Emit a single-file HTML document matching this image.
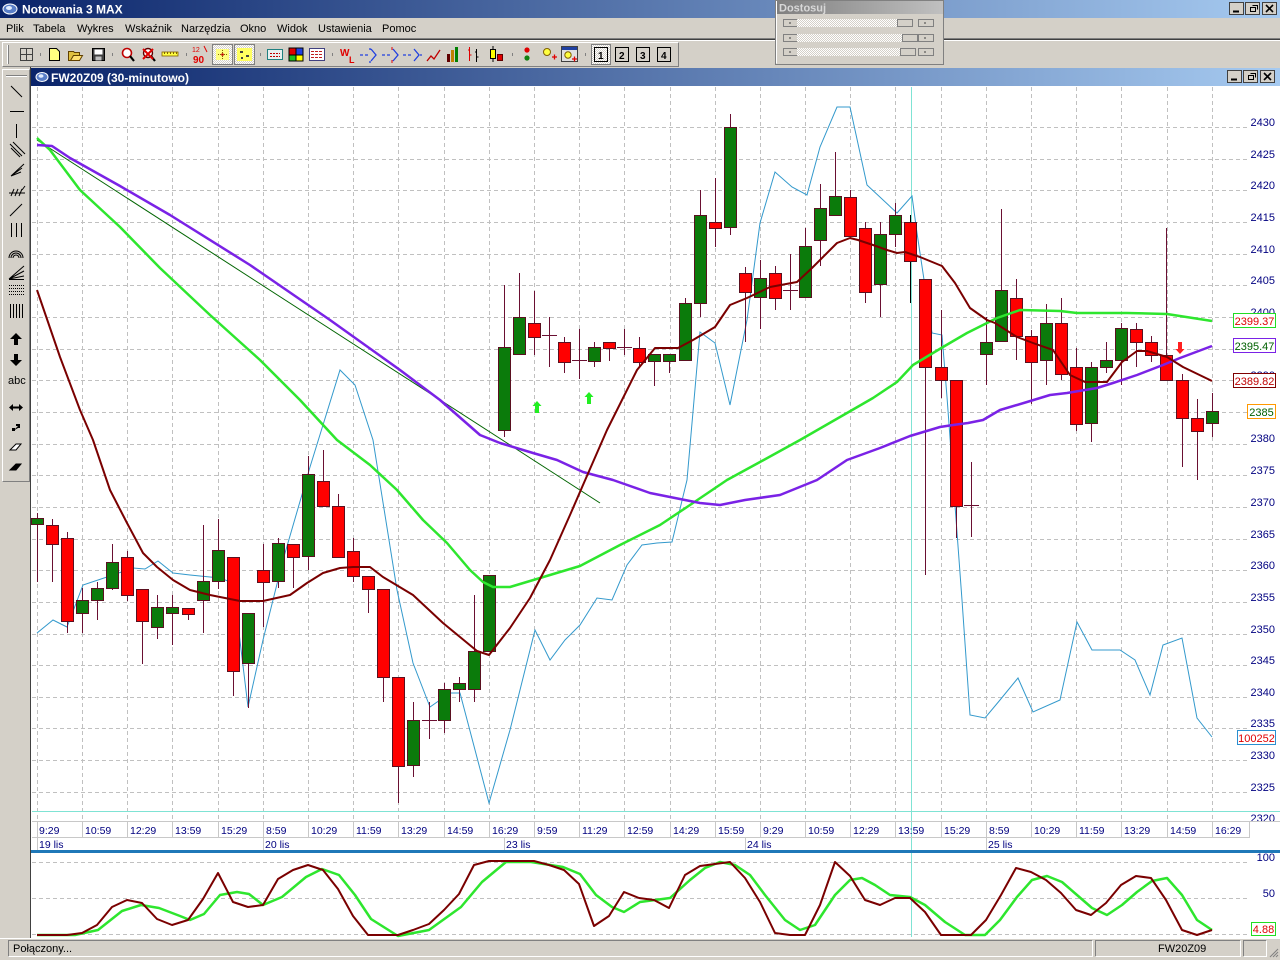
<!DOCTYPE html>
<html><head><meta charset="utf-8">
<style>
html,body{margin:0;padding:0;background:#d4d0c8;width:1280px;height:960px;overflow:hidden;}
svg{display:block;}
text{font-family:"Liberation Sans",sans-serif;}
</style></head><body>
<svg width="1280" height="960" viewBox="0 0 1280 960" xmlns="http://www.w3.org/2000/svg">
<defs>
<linearGradient id="tb" x1="0" x2="1" y1="0" y2="0"><stop offset="0" stop-color="#0a246a"/><stop offset="1" stop-color="#a6caf0"/></linearGradient>
<linearGradient id="tg" x1="0" x2="1" y1="0" y2="0"><stop offset="0" stop-color="#808080"/><stop offset="1" stop-color="#c0c0c0"/></linearGradient>
<pattern id="hatch" width="2" height="2" patternUnits="userSpaceOnUse"><rect width="2" height="2" fill="#ffffff"/><rect width="1" height="1" fill="#d4d0c8"/><rect x="1" y="1" width="1" height="1" fill="#d4d0c8"/></pattern>
</defs>

<!-- background -->
<rect x="0" y="0" width="1280" height="960" fill="#d4d0c8"/>

<!-- main title bar -->
<rect x="0" y="0" width="1280" height="18" fill="url(#tb)"/>
<ellipse cx="10" cy="9" rx="7" ry="5" fill="#5a7fc8" stroke="#ffffff" stroke-width="1"/>
<ellipse cx="9" cy="8" rx="3" ry="2" fill="#e0ecff"/>
<text x="22" y="13.5" font-size="12" font-weight="bold" fill="#ffffff">Notowania 3 MAX</text>
<g>
<rect x="1229.5" y="2.5" width="14" height="12" fill="#d4d0c8" stroke="#404040"/>
<rect x="1245.5" y="2.5" width="14" height="12" fill="#d4d0c8" stroke="#404040"/>
<rect x="1262.5" y="2.5" width="14" height="12" fill="#d4d0c8" stroke="#404040"/>
<path d="M1233 11.5h6" stroke="#000" stroke-width="2"/>
<path d="M1250.5 7.5h5v4h-5z M1252.5 5.5h5v4" fill="none" stroke="#000"/>
<path d="M1266 5l7 7M1273 5l-7 7" stroke="#000" stroke-width="1.6"/>
</g>

<!-- menu bar -->
<g font-size="11" fill="#000">
<text x="6" y="32">Plik</text>
<text x="33" y="32">Tabela</text>
<text x="77" y="32">Wykres</text>
<text x="125" y="32">Wskaźnik</text>
<text x="181" y="32">Narzędzia</text>
<text x="240" y="32">Okno</text>
<text x="277" y="32">Widok</text>
<text x="318" y="32">Ustawienia</text>
<text x="382" y="32">Pomoc</text>
</g>
<path d="M0 38.5H1280" stroke="#808080"/>
<path d="M0 39.5H1280" stroke="#404040"/>
<path d="M0 40.5H1280" stroke="#ffffff"/>

<!-- toolbar -->
<rect x="2.5" y="42.5" width="676" height="24" fill="#d4d0c8" stroke="#ffffff"/>
<path d="M678.5 42.5V66.5H2.5" stroke="#808080" fill="none"/>
<path d="M7.5 45V64" stroke="#ffffff" stroke-width="1"/><path d="M8.5 45V64" stroke="#808080"/>
<g stroke-width="1">
<!-- grid icon -->
<rect x="20.5" y="48.5" width="12" height="12" fill="none" stroke="#404040"/><path d="M26.5 48.5V60.5M20.5 54.5H32.5" stroke="#404040"/>
<path d="M40.5 53V56M112.5 53V56M186.5 53V56M260.5 53V56M332.5 53V56M512.5 53V56M585.5 53V56" stroke="#808080"/>
<!-- new doc -->
<path d="M49.5 48.5h7l3 3v9h-10z" fill="#ffff80" stroke="#000"/>
<!-- folder -->
<path d="M68.5 51.5h5l1 1h5v8h-11z" fill="#e0c040" stroke="#604000"/><path d="M70.5 60.5l3-5h9l-3 5z" fill="#ffe070" stroke="#604000"/>
<!-- floppy -->
<rect x="92.5" y="48.5" width="12" height="12" fill="#404040" stroke="#000"/><rect x="94.5" y="49.5" width="8" height="5" fill="#fff"/><rect x="95.5" y="56.5" width="6" height="4" fill="#c0c0c0"/>
<!-- magnifier -->
<circle cx="127" cy="53" r="4.5" fill="#fff" stroke="#c00000" stroke-width="1.6"/><path d="M130 56l4 5" stroke="#000" stroke-width="2.2"/>
<circle cx="148" cy="53" r="4.5" fill="#fff" stroke="#600000" stroke-width="1.4"/><path d="M151 56l4 5" stroke="#000" stroke-width="2.2"/><path d="M143 49l10 10M153 49l-10 10" stroke="#e00000" stroke-width="2"/>
<!-- ruler -->
<rect x="162" y="52" width="16" height="4" fill="#ffff40" stroke="#806000" stroke-width="0.8"/><path d="M164.5 52v2M167.5 52v2M170.5 52v2M173.5 52v2M176.5 52v2" stroke="#806000"/>
<!-- 12/90 -->
<text x="192" y="52" font-size="7" fill="#e00000">12</text><text x="193" y="63" font-size="10" fill="#e00000" font-weight="bold">90</text><path d="M204 46l3 6" stroke="#e00000"/>
<!-- pressed yellow buttons -->
<rect x="212.5" y="44.5" width="20" height="20" fill="url(#hatch)" stroke="#808080"/>
<rect x="216" y="49" width="13" height="11" fill="#ffff80"/><circle cx="222.5" cy="54.5" r="1.3" fill="#c00000"/><path d="M218 54.5h3M224 54.5h3M222.5 50v3M222.5 56v3" stroke="#806000" stroke-dasharray="1,1"/>
<rect x="234.5" y="44.5" width="20" height="20" fill="url(#hatch)" stroke="#808080"/>
<rect x="237" y="48" width="15" height="13" fill="#ffff60"/><rect x="240" y="51" width="3" height="2" fill="#404040"/><rect x="246" y="55" width="3" height="2" fill="#404040"/><rect x="241" y="57" width="2" height="2" fill="#404040"/>
<!-- boxes -->
<rect x="267.5" y="49.5" width="15" height="10" fill="#e8f0f0" stroke="#208080"/><path d="M270 53.5h10M270 56.5h10" stroke="#c00000" stroke-dasharray="2,1"/>
<rect x="288.5" y="47.5" width="15" height="14" fill="#000"/><rect x="289.5" y="48.5" width="6" height="6" fill="#e00000"/><rect x="296.5" y="48.5" width="6" height="6" fill="#2040e0"/><rect x="289.5" y="55.5" width="6" height="5" fill="#20c020"/><rect x="296.5" y="55.5" width="6" height="5" fill="#ffff00"/>
<rect x="309.5" y="48.5" width="15" height="12" fill="#fff" stroke="#404080"/><path d="M311 51.5h12M311 54.5h12M311 57.5h12" stroke="#c02020" stroke-dasharray="3,1"/>
<!-- WL -->
<text x="340" y="56" font-size="10" font-weight="bold" fill="#e00000">W</text><text x="349" y="63" font-size="9" font-weight="bold" fill="#e00000">L</text>
<!-- arrows -->
<path d="M360 55h3M365 55h3M371 49l5 6-5 6M370 48v2M370 61v2" stroke="#2040e0" fill="none" stroke-width="1.3"/>
<path d="M382 55h3M387 55h3M393 49l5 6-5 6" stroke="#2040e0" fill="none" stroke-width="1.3"/><path d="M392 47v3M392 60v3" stroke="#e00000"/>
<path d="M403 55h3M408 55h3M414 49l5 6-5 6M420 55h2" stroke="#2040e0" fill="none" stroke-width="1.3"/>
<!-- chart types -->
<path d="M427 61l4-5 3 3 6-9" stroke="#c00000" fill="none" stroke-width="1.3"/>
<rect x="447" y="54" width="3" height="8" fill="#600000"/><rect x="451" y="50" width="3" height="12" fill="#c08000"/><rect x="455" y="47" width="3" height="15" fill="#008000"/>
<path d="M469.5 47v14M468 50h2M469.5 55h2" stroke="#e00000"/><path d="M476.5 49v13M475 52h2M476.5 57h2" stroke="#000"/>
<rect x="490.5" y="49.5" width="5" height="9" fill="#ffff00" stroke="#000"/><path d="M493 46v3M493 58v4" stroke="#000"/><rect x="497.5" y="54.5" width="5" height="6" fill="#e00000" stroke="#600000"/>
<!-- traffic -->
<circle cx="527" cy="50" r="2.6" fill="#e00000"/><circle cx="527" cy="58" r="2.6" fill="#108010"/>
<!-- magnifier plus -->
<circle cx="547" cy="52" r="3.5" fill="#ffff40" stroke="#806000"/><path d="M552 57h5M554.5 54.5v5" stroke="#e00000" stroke-width="1.3"/>
<rect x="561.5" y="46.5" width="16" height="15" fill="#e0e0e0" stroke="#404040"/><rect x="562" y="47" width="15" height="3" fill="#2040a0"/><circle cx="568" cy="55" r="3.2" fill="#ffff40" stroke="#806000"/><path d="M572 59h5M574.5 56.5v5" stroke="#e00000" stroke-width="1.3"/>
<!-- 1 2 3 4 -->
<rect x="591.5" y="44.5" width="19" height="20" fill="url(#hatch)" stroke="#808080"/>
<rect x="594.5" y="47.5" width="13" height="14" fill="none" stroke="#000"/>
<rect x="615.5" y="47.5" width="13" height="14" fill="none" stroke="#000"/>
<rect x="636.5" y="47.5" width="13" height="14" fill="none" stroke="#000"/>
<rect x="657.5" y="47.5" width="13" height="14" fill="none" stroke="#000"/>
<text x="598" y="59" font-size="10" font-weight="bold" fill="#000">1</text>
<text x="619" y="59" font-size="10" font-weight="bold" fill="#000">2</text>
<text x="640" y="59" font-size="10" font-weight="bold" fill="#000">3</text>
<text x="661" y="59" font-size="10" font-weight="bold" fill="#000">4</text>
</g>

<!-- Dostosuj window -->
<rect x="775.5" y="0.5" width="168" height="64" fill="#d4d0c8" stroke="#808080"/>
<path d="M776.5 63.5V1.5H942.5" stroke="#ffffff" fill="none"/>
<rect x="777" y="1" width="166" height="13" fill="url(#tg)"/>
<text x="779" y="11.5" font-size="11" font-weight="bold" fill="#d8d8d8">Dostosuj</text>
<g>
<rect x="783.5" y="19.5" width="14" height="7" fill="#d4d0c8" stroke="#808080"/><rect x="797" y="19" width="103" height="8" fill="url(#hatch)"/><rect x="897.5" y="19.5" width="15" height="7" fill="#d4d0c8" stroke="#808080"/><rect x="918.5" y="19.5" width="15" height="7" fill="#d4d0c8" stroke="#808080"/>
<rect x="783.5" y="34.5" width="14" height="7" fill="#d4d0c8" stroke="#808080"/><rect x="797" y="34" width="106" height="8" fill="url(#hatch)"/><rect x="902.5" y="34.5" width="15" height="7" fill="#d4d0c8" stroke="#808080"/><rect x="918.5" y="34.5" width="15" height="7" fill="#d4d0c8" stroke="#808080"/>
<rect x="783.5" y="48.5" width="14" height="7" fill="#d4d0c8" stroke="#808080"/><rect x="797" y="48" width="104" height="8" fill="url(#hatch)"/><rect x="900.5" y="48.5" width="15" height="7" fill="#d4d0c8" stroke="#808080"/><rect x="918.5" y="48.5" width="15" height="7" fill="#d4d0c8" stroke="#808080"/>
<path d="M789 23h2M789 38h2M789 52h2M924 23h2M924 38h2M924 52h2" stroke="#404040"/>
</g>

<!-- left toolbar -->
<rect x="2.5" y="69.5" width="27" height="412" fill="#d4d0c8" stroke="#ffffff"/>
<path d="M29.5 69.5V481.5H2.5" stroke="#808080" fill="none"/>
<path d="M30.5 67V938" stroke="#404040"/>
<g stroke="#000" fill="none" stroke-width="1">
<path d="M6 75.5H27" stroke="#808080"/><path d="M6 76.5H27" stroke="#ffffff"/>
<path d="M11 86L22 97"/>
<path d="M10 111.5H24"/>
<path d="M16.5 124V138"/>
<path d="M10 144L22 156M13 142L25 154M11 148l9 9"/>
<path d="M11 176L24 164M11 176L22 168M11 176L21 172"/>
<path d="M9 193h16M11 196l3-7M15 196l3-7M19 196l3-7M22 190l3-4"/>
<path d="M10 216L22 204"/>
<path d="M11.5 223V237M16.5 223V237M21.5 223V237"/>
<path d="M9 258a7 7 0 0 1 14 0M11 258a5 5 0 0 1 10 0M13 258a3 3 0 0 1 6 0"/>
<path d="M9 279L24 266M9 279L24 271M9 279L24 276M9 279.5H24"/>
<path d="M9 285.5h15M9 288.5h15M9 291.5h15M9 294.5h15" stroke-dasharray="1,1"/>
<path d="M10.5 304V318M13.5 304V318M16.5 304V318M19.5 304V318M22.5 304V318"/>
</g>
<path d="M16 333l-6 6h4v6h4v-6h4z" fill="#000"/>
<path d="M16 366l-6-6h4v-6h4v6h4z" fill="#000"/>
<text x="8" y="384" font-size="11" fill="#000">abc</text>
<path d="M9 407.5l4-3.5v2.5h6V404l4 3.5-4 3.5v-2.5h-6V411z" fill="#000"/>
<path d="M13 431l5-5-2 0 0-2 4 0 0 4-2 0z" fill="#000"/><rect x="12" y="428" width="3" height="3" fill="#000"/>
<path d="M10 450l6-6h5l-5 6z" fill="#fff" stroke="#000"/><path d="M10 470l6-6h5l-5 6z" fill="#000" stroke="#000"/>

<!-- chart window title -->
<rect x="31" y="67" width="1249" height="1" fill="#d4d0c8"/>
<rect x="31" y="68" width="1249" height="18" fill="url(#tb)"/>
<ellipse cx="42" cy="77" rx="6" ry="4.5" fill="#5a7fc8" stroke="#ffffff"/>
<ellipse cx="41" cy="76" rx="2.5" ry="1.8" fill="#e0ecff"/>
<text x="51" y="82" font-size="12" font-weight="bold" fill="#ffffff">FW20Z09 (30-minutowo)</text>
<g>
<rect x="1227.5" y="70.5" width="14" height="12" fill="#d4d0c8" stroke="#404040"/>
<rect x="1243.5" y="70.5" width="14" height="12" fill="#d4d0c8" stroke="#404040"/>
<rect x="1260.5" y="70.5" width="14" height="12" fill="#d4d0c8" stroke="#404040"/>
<path d="M1231 79.5h6" stroke="#000" stroke-width="2"/>
<path d="M1248.5 75.5h5v4h-5z M1250.5 73.5h5v4" fill="none" stroke="#000"/>
<path d="M1264 73l7 7M1271 73l-7 7" stroke="#000" stroke-width="1.6"/>
</g>

<!-- chart white area -->
<rect x="31" y="86" width="1249" height="852" fill="#ffffff"/>

<!-- horizontal grid -->
<g stroke="#c0c0c0" stroke-dasharray="4,3" stroke-width="1">
<path d="M32 127.5H1248M32 159.5H1248M32 190.5H1248M32 222.5H1248M32 254.5H1248M32 285.5H1248M32 317.5H1248M32 349.5H1248M32 380.5H1248M32 412.5H1248M32 444.5H1248M32 475.5H1248M32 507.5H1248M32 539.5H1248M32 570.5H1248M32 602.5H1248M32 634.5H1248M32 665.5H1248M32 697.5H1248M32 728.5H1248M32 760.5H1248M32 792.5H1248"/>
<path d="M37.5 87V821M82.5 87V821M127.5 87V821M172.5 87V821M218.5 87V821M263.5 87V821M308.5 87V821M353.5 87V821M398.5 87V821M444.5 87V821M489.5 87V821M534.5 87V821M579.5 87V821M624.5 87V821M670.5 87V821M715.5 87V821M760.5 87V821M805.5 87V821M850.5 87V821M895.5 87V821M941.5 87V821M986.5 87V821M1031.5 87V821M1076.5 87V821M1121.5 87V821M1167.5 87V821M1212.5 87V821"/>
<path d="M32 862.5H1248M32 898.5H1248M32 934.5H1248"/>
</g>

<!-- crosshair -->
<path d="M911.5 87V937" stroke="#7fe3d4" stroke-width="1"/>
<path d="M32 811.5H1280" stroke="#7fe3d4" stroke-width="1"/>

<!-- cyan series -->
<polyline fill="none" stroke="#3399cc" stroke-width="1" points="37,633 53,620 67,627 83,585 107,577 133,568 145,569 158,561 173,573 190,575 220,578 233,583 248,707 263,640 283,560 310,467 340,370 355,385 373,440 397,590 413,663 430,707 450,693 460,693 489,803 510,730 535,630 550,660 565,640 580,625 597,598 612,600 627,565 642,545 657,543 672,542 687,480 700,332 715,343 730,405 747,320 760,223 775,172 792,187 807,195 820,147 837,107 850,107 867,185 897,213 912,196 917,233 932,333 942,335 947,397 962,600 970,715 985,718 1000,700 1018,678 1033,712 1060,700 1077,622 1092,650 1120,650 1135,660 1150,695 1163,645 1182,638 1197,718 1212,737"/>

<!-- candle wicks -->
<path fill="none" stroke="#6a0f32" stroke-width="1" d="M37.5 513V582M52.5 519V582M67.5 532V633M82.5 588V633M97.5 582V620M112.5 544V590M127.5 551V601M142.5 589V664M157.5 595V639M172.5 595V645M188.5 608V620M203.5 525V633M218.5 519V589M233.5 557V696M248.5 613V708M263.5 544V627M278.5 538V588M293.5 544V588M308.5 456V570M323.5 450V506M338.5 494V557M353.5 538V582M368.5 576V613M383.5 589V702M398.5 677V803M413.5 702V777M429.5 702V739M444.5 683V733M459.5 677V702M474.5 595V702M489.5 575V651M504.5 285V437M519.5 273V354M534.5 291V355M549.5 317V367M564.5 337V373M579.5 329V379M594.5 342V367M609.5 342V361M624.5 329V355M639.5 337V367M654.5 354V386M669.5 354V373M685.5 298V360M700.5 190V317M715.5 178V247M730.5 114V235M745.5 267V342M760.5 260V329M775.5 266V310M790.5 254V310M805.5 228V297M820.5 184V266M835.5 152V215M850.5 190V236M865.5 222V303M880.5 222V317M895.5 203V247M925.5 279V575M941.5 310V398M956.5 380V538M971.5 462V537M986.5 317V385M1001.5 209V341M1016.5 279V360M1031.5 330V404M1046.5 304V385M1061.5 298V380M1076.5 348V431M1091.5 362V442M1106.5 342V373M1121.5 323V385M1136.5 323V367M1151.5 336V362M1166.5 228V380M1182.5 374V467M1197.5 399V480M1212.5 393V437"/>
<path d="M910.5 215V303" stroke="#000" stroke-width="1"/>
<!-- dojis -->
<path fill="none" stroke="#6a0f32" stroke-width="1" d="M422 720.5h15M542 335.5h15M572 360.5h15M617 347.5h15M783 290.5h15M964 505.5h15"/>

<!-- green bodies -->
<path fill="#0b7b0b" stroke="#5a1020" stroke-width="1" d="M31.5 518.5h12v6h-12zM76.5 600.5h12v13h-12zM91.5 588.5h12v12h-12zM106.5 562.5h12v26h-12zM151.5 607.5h12v20h-12zM166.5 607.5h12v6h-12zM197.5 581.5h12v19h-12zM212.5 550.5h12v31h-12zM242.5 613.5h12v50h-12zM272.5 543.5h12v38h-12zM302.5 474.5h12v82h-12zM407.5 720.5h12v45h-12zM438.5 689.5h12v31h-12zM453.5 683.5h12v6h-12zM468.5 651.5h12v38h-12zM483.5 575.5h12v76h-12zM498.5 347.5h12v83h-12zM513.5 317.5h12v37h-12zM588.5 347.5h12v14h-12zM648.5 354.5h12v7h-12zM663.5 354.5h12v7h-12zM679.5 303.5h12v57h-12zM694.5 215.5h12v88h-12zM724.5 127.5h12v100h-12zM754.5 278.5h12v19h-12zM799.5 246.5h12v51h-12zM814.5 208.5h12v32h-12zM829.5 196.5h12v19h-12zM874.5 234.5h12v50h-12zM889.5 215.5h12v19h-12zM980.5 342.5h12v12h-12zM995.5 290.5h12v51h-12zM1040.5 323.5h12v37h-12zM1085.5 367.5h12v56h-12zM1100.5 360.5h12v7h-12zM1115.5 328.5h12v32h-12zM1206.5 411.5h12v12h-12z"/>
<!-- red bodies -->
<path fill="#ff0000" stroke="#5a1020" stroke-width="1" d="M46.5 525.5h12v19h-12zM61.5 538.5h12v83h-12zM121.5 557.5h12v38h-12zM136.5 589.5h12v32h-12zM182.5 608.5h12v6h-12zM227.5 557.5h12v114h-12zM257.5 570.5h12v12h-12zM287.5 544.5h12v13h-12zM317.5 481.5h12v25h-12zM332.5 506.5h12v51h-12zM347.5 551.5h12v25h-12zM362.5 576.5h12v13h-12zM377.5 589.5h12v88h-12zM392.5 677.5h12v89h-12zM528.5 323.5h12v14h-12zM558.5 342.5h12v20h-12zM603.5 342.5h12v6h-12zM633.5 348.5h12v14h-12zM709.5 222.5h12v6h-12zM739.5 273.5h12v19h-12zM769.5 273.5h12v25h-12zM844.5 197.5h12v39h-12zM859.5 228.5h12v64h-12zM904.5 222.5h12v39h-12zM919.5 279.5h12v88h-12zM935.5 367.5h12v13h-12zM950.5 380.5h12v126h-12zM1010.5 298.5h12v38h-12zM1025.5 336.5h12v26h-12zM1055.5 323.5h12v51h-12zM1070.5 367.5h12v57h-12zM1130.5 329.5h12v13h-12zM1145.5 342.5h12v13h-12zM1160.5 355.5h12v25h-12zM1176.5 380.5h12v38h-12zM1191.5 418.5h12v13h-12z"/>

<!-- thin trend line -->
<path d="M37 140L600 503" stroke="#006400" stroke-width="1" fill="none"/>
<!-- green MA -->
<polyline fill="none" stroke="#2ee62e" stroke-width="2.5" stroke-linejoin="round" points="37,138 50,150 80,190 120,227 160,268 210,315 260,360 300,400 337,440 370,465 397,490 423,520 447,543 470,570 483,582 493,587 510,587 540,578 580,566 620,545 660,525 690,505 727,480 760,462 800,440 847,413 873,398 897,382 913,365 933,353 943,347 967,333 987,323 997,318 1020,310 1060,311 1077,313 1127,313 1167,314 1212,321"/>
<!-- purple MA -->
<polyline fill="none" stroke="#7a22e6" stroke-width="2.5" stroke-linejoin="round" points="37,145 52,146 70,158 120,186 170,215 250,265 330,320 400,370 440,400 480,435 500,443 533,453 557,460 583,472 613,480 650,493 700,503 720,505 745,500 780,495 817,480 847,460 880,448 910,436 940,427 953,425 968,423 983,420 1000,410 1027,402 1050,395 1067,393 1097,388 1113,383 1137,375 1163,365 1180,358 1212,346"/>
<!-- maroon MA -->
<polyline fill="none" stroke="#7a0000" stroke-width="2" stroke-linejoin="round" points="37,290 60,357 80,410 93,440 110,490 127,523 143,553 157,567 173,580 190,590 210,595 240,601 263,601 290,595 307,583 323,573 340,568 353,567 370,567 383,577 413,595 443,623 460,637 477,651 489,655 510,628 530,598 550,560 570,515 583,485 607,430 637,370 655,348 678,348 693,340 715,327 730,305 747,298 770,287 797,282 812,268 837,243 850,238 858,240 873,245 887,250 897,253 905,252 920,257 942,266 955,283 970,308 987,320 995,323 1017,337 1033,343 1053,350 1070,375 1085,382 1107,382 1122,362 1137,351 1147,351 1167,357 1183,367 1212,381"/>

<!-- signal arrows -->
<path d="M537 401l-4.5 5h2.5v7h4v-7h2.5z" fill="#22ee22"/>
<path d="M589 392l-4.5 5h2.5v7h4v-7h2.5z" fill="#22ee22"/>
<path d="M1180 354l-4.5-5h2.5v-7h4v7h2.5z" fill="#ff2020"/>

<!-- price axis labels -->
<g font-size="11" fill="#000080" text-anchor="end">
<text x="1275" y="126">2430</text>
<text x="1275" y="158">2425</text>
<text x="1275" y="189">2420</text>
<text x="1275" y="221">2415</text>
<text x="1275" y="253">2410</text>
<text x="1275" y="284">2405</text>
<text x="1275" y="316">2400</text>
<text x="1275" y="348">2395</text>
<text x="1275" y="379">2390</text>
<text x="1275" y="442">2380</text>
<text x="1275" y="474">2375</text>
<text x="1275" y="506">2370</text>
<text x="1275" y="538">2365</text>
<text x="1275" y="569">2360</text>
<text x="1275" y="601">2355</text>
<text x="1275" y="633">2350</text>
<text x="1275" y="664">2345</text>
<text x="1275" y="696">2340</text>
<text x="1275" y="727">2335</text>
<text x="1275" y="759">2330</text>
<text x="1275" y="791">2325</text>
<text x="1275" y="822">2320</text>
<text x="1275" y="861">100</text>
<text x="1275" y="897">50</text>
</g>

<!-- value boxes -->
<g font-size="11" text-anchor="middle">
<rect x="1233.5" y="313.5" width="42" height="14" fill="#fff" stroke="#22dd22"/><text x="1254.5" y="325" fill="#e00000">2399.37</text>
<rect x="1233.5" y="338.5" width="42" height="14" fill="#fff" stroke="#7a22e6"/><text x="1254.5" y="350" fill="#006000">2395.47</text>
<rect x="1233.5" y="373.5" width="42" height="14" fill="#fff" stroke="#800000"/><text x="1254.5" y="385" fill="#c00000">2389.82</text>
<rect x="1247.5" y="404.5" width="28" height="14" fill="#fff" stroke="#ff9900"/><text x="1261.5" y="416" fill="#006000">2385</text>
<rect x="1237.5" y="730.5" width="38" height="14" fill="#fff" stroke="#2b8fd0"/><text x="1256.5" y="742" fill="#e00000">100252</text>
<rect x="1251.5" y="922.5" width="24" height="13" fill="#fff" stroke="#22dd22"/><text x="1263.5" y="933" fill="#e00000">4.88</text>
</g>

<!-- time axis -->
<path d="M32 821.5H1280M32 837.5H1250" stroke="#c8c8c8"/>
<path stroke="#c8c8c8" d="M37.5 822V837M82.5 822V837M127.5 822V837M172.5 822V837M218.5 822V837M263.5 822V837M308.5 822V837M353.5 822V837M398.5 822V837M444.5 822V837M489.5 822V837M534.5 822V837M579.5 822V837M624.5 822V837M670.5 822V837M715.5 822V837M760.5 822V837M805.5 822V837M850.5 822V837M895.5 822V837M941.5 822V837M986.5 822V837M1031.5 822V837M1076.5 822V837M1121.5 822V837M1167.5 822V837M1212.5 822V837M1249.5 822V837"/>
<path stroke="#c8c8c8" d="M37.5 838V850M263.5 838V850M504.5 838V850M745.5 838V850M986.5 838V850"/>
<g font-size="10.5" fill="#000080">
<text x="39" y="834">9:29</text>
<text x="85" y="834">10:59</text>
<text x="130" y="834">12:29</text>
<text x="175" y="834">13:59</text>
<text x="221" y="834">15:29</text>
<text x="266" y="834">8:59</text>
<text x="311" y="834">10:29</text>
<text x="356" y="834">11:59</text>
<text x="401" y="834">13:29</text>
<text x="447" y="834">14:59</text>
<text x="492" y="834">16:29</text>
<text x="537" y="834">9:59</text>
<text x="582" y="834">11:29</text>
<text x="627" y="834">12:59</text>
<text x="673" y="834">14:29</text>
<text x="718" y="834">15:59</text>
<text x="763" y="834">9:29</text>
<text x="808" y="834">10:59</text>
<text x="853" y="834">12:29</text>
<text x="898" y="834">13:59</text>
<text x="944" y="834">15:29</text>
<text x="989" y="834">8:59</text>
<text x="1034" y="834">10:29</text>
<text x="1079" y="834">11:59</text>
<text x="1124" y="834">13:29</text>
<text x="1170" y="834">14:59</text>
<text x="1215" y="834">16:29</text>
<text x="39" y="848">19 lis</text>
<text x="265" y="848">20 lis</text>
<text x="506" y="848">23 lis</text>
<text x="747" y="848">24 lis</text>
<text x="988" y="848">25 lis</text>
</g>
<rect x="31" y="850" width="1249" height="3" fill="#1f78b8"/>

<!-- stochastic -->
<polyline fill="none" stroke="#2ee62e" stroke-width="2.5" stroke-linejoin="round" points="37,935 75,935 98,930 122,911 141,905 159,908 180,916 190,920 204,914 220,895 237,892 249,894 263,905 282,897 306,877 322,869 339,875 355,895 371,919 398,936 429,930 461,907 482,882 506,862 531,862 563,867 580,874 596,895 612,907 624,912 640,902 655,900 670,898 690,880 705,868 720,862 735,865 750,875 765,895 785,920 800,930 815,925 835,895 850,880 862,878 875,885 890,895 910,897 925,905 945,922 965,935 985,935 1000,920 1017,897 1032,880 1047,876 1062,882 1077,895 1092,908 1107,915 1122,905 1137,892 1152,881 1167,878 1182,895 1197,920 1212,930"/>
<polyline fill="none" stroke="#7a0000" stroke-width="2" stroke-linejoin="round" points="37,935 52,935 67,935 82,933 97,925 112,907 127,900 142,903 157,919 172,925 188,920 203,899 218,873 233,902 248,907 263,905 278,879 293,870 308,865 323,870 338,889 353,916 368,935 383,935 398,935 413,930 429,924 444,910 459,894 474,865 489,861 504,861 519,861 534,861 549,865 564,870 579,884 594,926 609,916 624,892 639,898 654,900 669,908 685,875 700,866 715,864 730,862 745,878 760,902 775,933 790,935 805,935 820,905 835,862 850,876 865,900 880,905 895,898 910,898 925,912 941,935 956,935 971,935 986,920 1001,895 1016,868 1031,872 1046,880 1061,893 1076,910 1091,915 1106,903 1121,885 1136,876 1151,878 1166,900 1182,930 1197,935 1212,930"/>

<!-- status bar -->
<rect x="0" y="938" width="1280" height="22" fill="#d4d0c8"/>
<path d="M0 938.5H1280" stroke="#ffffff"/>
<path d="M8.5 956.5V940.5H1092.5" stroke="#808080" fill="none"/><path d="M1092.5 940.5V956.5H8.5" stroke="#ffffff" fill="none"/>
<path d="M1095.5 956.5V940.5H1240.5" stroke="#808080" fill="none"/><path d="M1240.5 940.5V956.5H1095.5" stroke="#ffffff" fill="none"/>
<path d="M1243.5 956.5V940.5H1266.5" stroke="#808080" fill="none"/><path d="M1266.5 940.5V956.5H1243.5" stroke="#ffffff" fill="none"/>
<text x="13" y="952" font-size="11" fill="#000">Połączony...</text>
<text x="1158" y="952" font-size="11" fill="#000">FW20Z09</text>
<path d="M1270 957l8-8M1273 957l5-5M1276 957l2-2" stroke="#808080"/>
</svg>
</body></html>
